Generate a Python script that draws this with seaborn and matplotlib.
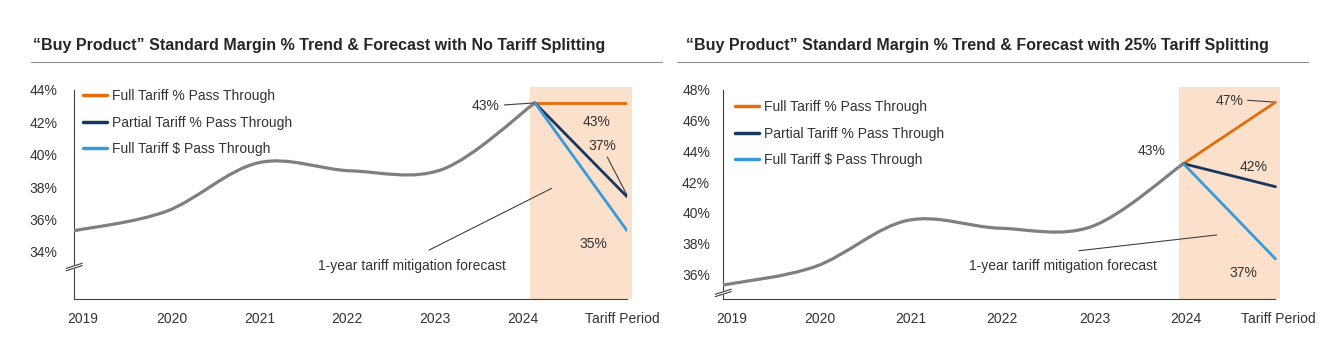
import matplotlib
matplotlib.use("Agg")
import matplotlib.pyplot as plt
from matplotlib.path import Path
from matplotlib.patches import PathPatch
import seaborn as sns
import pandas as pd

# ---------------- data ----------------
periods = ["2019", "2020", "2021", "2022", "2023", "2024", "Tariff Period"]
history = [35.3, 36.5, 39.5, 39.0, 39.1, 43.2]          # 2019-2024 standard margin %
series_names = ["Full Tariff % Pass Through",
                "Partial Tariff % Pass Through",
                "Full Tariff $ Pass Through"]
forecast_no_split = [43.2, 37.4, 35.3]                   # tariff period, per series
forecast_25_split = [47.2, 41.7, 37.0]
yticks_no_split = [34, 36, 38, 40, 42, 44]
yticks_25_split = [36, 38, 40, 42, 44, 46, 48]
titles = ["\u201cBuy Product\u201d Standard Margin % Trend & Forecast with No Tariff Splitting",
          "\u201cBuy Product\u201d Standard Margin % Trend & Forecast with 25% Tariff Splitting"]
note = "1-year tariff mitigation forecast"

# ---------------- style ----------------
sns.set_style("white")
plt.rcParams["font.family"] = ["Liberation Sans Narrow", "Liberation Sans", "DejaVu Sans"]
txt = "#333333"
palette = {series_names[0]: "#E46C0A", series_names[1]: "#17375E", series_names[2]: "#3A9AD9"}
grey = "#7F7F7F"
shade = "#FBE0CB"
fs = 10


def smooth_path(xs, ys):
    # excel-like smoothed line (catmull-rom bezier)
    pts = list(zip(xs, ys))
    n = len(pts)
    verts, codes = [pts[0]], [Path.MOVETO]
    for i in range(n - 1):
        p0, p1 = pts[max(i - 1, 0)], pts[i]
        p2, p3 = pts[i + 1], pts[min(i + 2, n - 1)]
        c1 = (p1[0] + (p2[0] - p0[0]) / 6, p1[1] + (p2[1] - p0[1]) / 6)
        c2 = (p2[0] - (p3[0] - p1[0]) / 6, p2[1] - (p3[1] - p1[1]) / 6)
        verts += [c1, c2, p2]
        codes += [Path.CURVE4] * 3
    return Path(verts, codes)


def draw_panel(ax, forecast, yticks, ylo, yhi, xtick_pos, break_frac, ypad):
    n = len(history)
    # forecast shading
    ax.axvspan(n - 1 - 0.05, n - 1 + 1.05, color=shade, lw=0, zorder=0, clip_on=False)

    # history curve
    ax.add_patch(PathPatch(smooth_path(range(n), history), fill=False,
                           edgecolor=grey, lw=2.3, capstyle="round", zorder=3))

    # forecast lines
    df = pd.DataFrame({
        "pos": [n - 1, n] * len(series_names),
        "margin": [v for end in forecast for v in (history[-1], end)],
        "series": [s for s in series_names for _ in range(2)],
    })
    sns.lineplot(data=df, x="pos", y="margin", hue="series", hue_order=series_names,
                 palette=palette, lw=2.0, ax=ax, zorder=4)

    ax.set_xlim(0, n)
    ax.set_ylim(ylo, yhi)
    ax.set_xticks(xtick_pos)
    ax.set_xticklabels(periods)
    ax.set_yticks([ylo] + yticks)
    ax.set_yticklabels([""] + [f"{t}%" for t in yticks])
    ax.tick_params(axis="x", length=0, pad=9.5, labelsize=fs, colors=txt)
    ax.tick_params(axis="y", length=3.5, width=0.8, direction="out", pad=ypad,
                   labelsize=fs, colors="#404040", labelcolor=txt)
    ax.set_xlabel("")
    ax.set_ylabel("")
    for s in ["top", "right"]:
        ax.spines[s].set_visible(False)
    for s in ["left", "bottom"]:
        ax.spines[s].set_color("#404040")
        ax.spines[s].set_linewidth(0.8)
    ax.spines["left"].set_bounds(ylo, yticks[-1])
    ax.spines["bottom"].set_bounds(0, n)
    ax.grid(False)

    # axis break marks
    w, h, g = 0.0145, 0.024, 0.011
    b = break_frac
    ax.fill([-w, w, w, -w], [b - h / 2 - g / 2, b + h / 2 - g / 2, b + h / 2 + g / 2, b - h / 2 + g / 2],
            color="white", transform=ax.transAxes, clip_on=False, zorder=5)
    for off in (-g / 2, g / 2):
        ax.plot([-w, w], [b - h / 2 + off, b + h / 2 + off], color="#404040", lw=0.8,
                transform=ax.transAxes, clip_on=False, zorder=6)

    # legend
    handles, labels = ax.get_legend_handles_labels()
    ax.legend(handles, labels, frameon=False, fontsize=fs, loc="upper left",
              borderpad=0, borderaxespad=0, handlelength=1.7, handletextpad=0.4,
              labelspacing=0.9, labelcolor=txt)
    for line in ax.get_legend().get_lines():
        line.set_linewidth(2.5)


fig = plt.figure(figsize=(13.29, 3.63), dpi=100)
ax1 = fig.add_axes([0.0559, 0.1755, 0.4159, 0.5857])
ax2 = fig.add_axes([0.5442, 0.1755, 0.4176, 0.5857])

draw_panel(ax1, forecast_no_split, yticks_no_split, 31.06, 44.2,
           [0.094, 1.057, 2.016, 2.958, 3.916, 4.87, 5.95], 0.152, 8.5)
draw_panel(ax2, forecast_25_split, yticks_25_split, 34.37, 48.21,
           [0.094, 1.045, 2.04, 3.03, 4.04, 5.03, 6.03], 0.03, 6)

ax1.get_legend().set_bbox_to_anchor((0.0627, 0.7545), transform=fig.transFigure)
ax2.get_legend().set_bbox_to_anchor((0.553, 0.7245), transform=fig.transFigure)

arrow = dict(arrowstyle="-", color="#404040", lw=0.8, shrinkA=1, shrinkB=0)
lab = dict(fontsize=fs, color=txt, ha="center", va="center")

# left panel labels
ax1.annotate(f"{history[-1]:.0f}%", xy=(5, history[-1]), xytext=(4.467, 43.01),
             arrowprops=dict(arrow, relpos=(1, 0.55)), **lab)
ax1.text(5.666, 42.04, f"{forecast_no_split[0]:.0f}%", **lab)
ax1.annotate(f"{forecast_no_split[1]:.0f}%", xy=(6, forecast_no_split[1] + 0.1), xytext=(5.73, 40.56),
             arrowprops=dict(arrow, relpos=(0.6, 0)), **lab)
ax1.text(5.631, 34.48, f"{forecast_no_split[2]:.0f}%", **lab)
ax1.text(3.666, 33.12, note, **lab)
ax1.annotate("", xy=(5.183, 37.92), xytext=(3.837, 34.06), arrowprops=arrow)

# right panel labels
ax2.text(4.649, 44.05, f"{history[-1]:.0f}%", **lab)
ax2.annotate(f"{forecast_25_split[0]:.0f}%", xy=(6, forecast_25_split[0]), xytext=(5.496, 47.30),
             arrowprops=dict(arrow, relpos=(1, 0.55)), **lab)
ax2.text(5.766, 42.97, f"{forecast_25_split[1]:.0f}%", **lab)
ax2.text(5.648, 36.11, f"{forecast_25_split[2]:.0f}%", **lab)
ax2.text(3.694, 36.54, note, **lab)
ax2.annotate("", xy=(5.362, 38.56), xytext=(3.849, 37.52), arrowprops=arrow)

# titles and rules
fig.text(0.0248, 0.876, titles[0], fontsize=11.5, fontweight="bold", color="#262626", va="center")
fig.text(0.516, 0.876, titles[1], fontsize=11.5, fontweight="bold", color="#262626", va="center")
fig.add_artist(plt.Line2D([0.0233, 0.498], [0.8284, 0.8284], color="#8C8C8C", lw=0.8))
fig.add_artist(plt.Line2D([0.5094, 0.984], [0.8284, 0.8284], color="#8C8C8C", lw=0.8))

fig.savefig("out.png", dpi=100)
plt.close()
